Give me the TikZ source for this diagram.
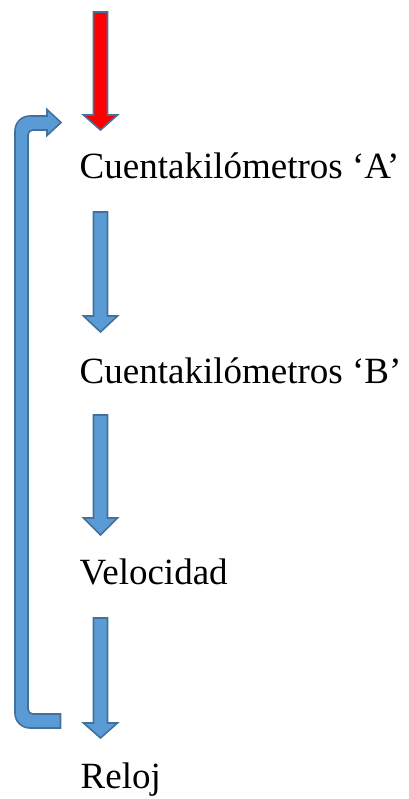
\documentclass[tikz,border=0pt]{standalone}
\usepackage{fontspec}
\setmainfont{Liberation Serif}
\definecolor{arrowblue}{RGB}{91,155,213}
\definecolor{edgeblue}{RGB}{65,113,156}
\definecolor{arrowred}{RGB}{255,0,0}
\begin{document}
\begin{tikzpicture}[x=1pt,y=-1pt,
  label/.style={anchor=base west,inner sep=0pt,font=\fontsize{37}{40}\selectfont},
  blockarrow/.style={draw=edgeblue,line width=1.6pt,line join=miter,fill=arrowblue},
  redarrow/.style={blockarrow,fill=arrowred}]
\useasboundingbox (0,0) rectangle (408,799);
% block arrow macro: #1 style, #2 top y, #3 head base y, #4 tip y
\newcommand\myarrow[4]{%
  \path[#1] (93.5,#2) -- (107.5,#2) -- (107.5,#3) -- (117.5,#3) -- (100.5,#4)
    -- (83.5,#3) -- (93.5,#3) -- cycle;}
\myarrow{redarrow}{12}{115}{130}
\myarrow{blockarrow}{212}{316}{332}
\myarrow{blockarrow}{415}{518}{535}
\myarrow{blockarrow}{618}{723}{738}
% text nodes
\node[label] (ca) at (79.5,179) {Cuentakilómetros ‘A’};
\node[label] (cb) at (79.5,383) {Cuentakilómetros ‘B’};
\node[label] (vel) at (79.5,584) {Velocidad};
\node[label] (rel) at (80.5,788) {Reloj};
% feedback loop arrow
\path[blockarrow]
  (60.5,714) -- (33,714)
  .. controls (30,714) and (28,712) .. (28,709)
  -- (28,135)
  .. controls (28,132) and (30,130) .. (33,130)
  -- (47,130) -- (47,135.5) -- (61,122.5) -- (47,109.5) -- (47,116)
  -- (30,116)
  .. controls (21.5,116) and (15,122.5) .. (15,131)
  -- (15,713)
  .. controls (15,721.5) and (21.5,728) .. (30,728)
  -- (60.5,728) -- cycle;
\end{tikzpicture}
\end{document}
